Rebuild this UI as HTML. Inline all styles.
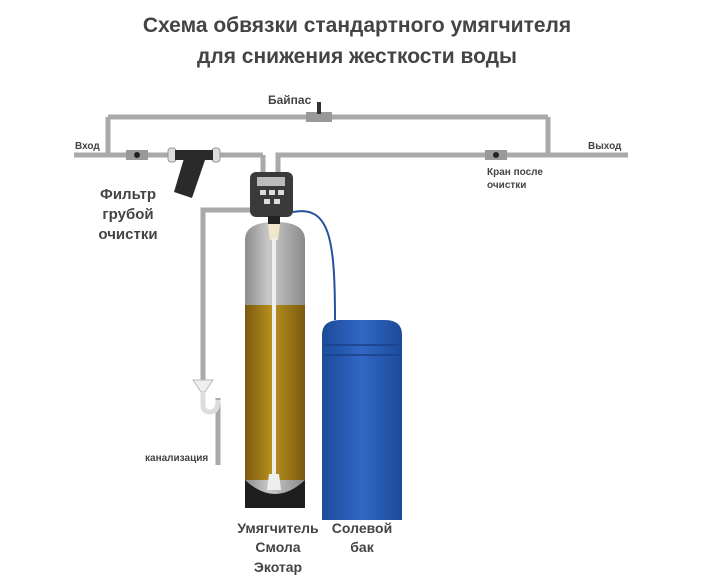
<!DOCTYPE html>
<html><head><meta charset="utf-8"><style>
body{margin:0;background:#fff}
svg{display:block}
text{font-family:"Liberation Sans","DejaVu Sans",sans-serif;font-weight:bold;fill:#444}
</style></head><body>
<svg width="713" height="583" viewBox="0 0 713 583" xmlns="http://www.w3.org/2000/svg">
<defs>
<linearGradient id="tank" x1="0" x2="1"><stop offset="0" stop-color="#8d8d8d"/><stop offset="0.4" stop-color="#c9c9c9"/><stop offset="1" stop-color="#8a8a8a"/></linearGradient>
<linearGradient id="resin" x1="0" x2="1"><stop offset="0" stop-color="#7a5a10"/><stop offset="0.45" stop-color="#b8901e"/><stop offset="1" stop-color="#7a5a10"/></linearGradient>
<linearGradient id="blue" x1="0" x2="1"><stop offset="0" stop-color="#1d4a9a"/><stop offset="0.5" stop-color="#3068c4"/><stop offset="1" stop-color="#1d4a9a"/></linearGradient>
</defs>
<text x="357" y="32" font-size="21" text-anchor="middle" fill="#3a3a3a">Схема обвязки стандартного умягчителя</text>
<text x="357" y="63" font-size="21" text-anchor="middle" fill="#3a3a3a">для снижения жесткости воды</text>

<g stroke="#a9a9a9" stroke-width="5" fill="none">
<path d="M108 117 H548"/>
<path d="M108 117 V155 M548 117 V155"/>
<path d="M74 155 H263 M263 155 V175"/>
<path d="M278 175 V155 H628"/>
<path d="M250 210 H203 V380"/>
<path d="M218 398 V465"/>
</g>
<!-- bypass valve -->
<rect x="306" y="112" width="26" height="10" fill="#999"/>
<rect x="317" y="102" width="4" height="12" fill="#333"/>
<!-- valves -->
<rect x="126" y="150" width="22" height="10" fill="#999"/><circle cx="137" cy="155" r="3" fill="#222"/>
<rect x="485" y="150" width="22" height="10" fill="#999"/><circle cx="496" cy="155" r="3" fill="#222"/>
<!-- filter -->
<rect x="168" y="148" width="8" height="14" rx="3" fill="#ddd" stroke="#999"/>
<rect x="212" y="148" width="8" height="14" rx="3" fill="#ddd" stroke="#999"/>
<rect x="175" y="150" width="38" height="10" fill="#2a2a2a"/>
<path d="M185 155 L205 160 L192 198 L174 192 Z" fill="#2a2a2a"/>
<!-- head -->
<rect x="250" y="172" width="43" height="45" rx="6" fill="#3a3a3a"/>
<rect x="257" y="177" width="28" height="9" fill="#bbb"/>
<rect x="260" y="190" width="6" height="5" fill="#ddd"/><rect x="269" y="190" width="6" height="5" fill="#ddd"/><rect x="278" y="190" width="6" height="5" fill="#ddd"/>
<rect x="264" y="199" width="6" height="5" fill="#ddd"/><rect x="274" y="199" width="6" height="5" fill="#ddd"/>
<!-- tank -->
<path d="M245 240 Q245 222 275 222 Q305 222 305 240 V508 H245 Z" fill="url(#tank)"/>
<path d="M245 305 H305 V480 H245 Z" fill="url(#resin)"/>
<path d="M245 480 Q275 508 305 480 V508 H245 Z" fill="#1e1e1e"/>
<rect x="268" y="216" width="12" height="8" fill="#222"/>
<path d="M268 224 H280 L278 240 H270 Z" fill="#f0e6cc"/>
<rect x="272" y="238" width="4" height="236" fill="#eee"/>
<path d="M269 474 H279 L281 490 H267 Z" fill="#eee"/>
<!-- blue tube -->
<path d="M293 212 C330 205 335 240 335 320" stroke="#2850a0" stroke-width="2" fill="none"/>
<!-- salt tank -->
<path d="M322 335 Q322 320 340 320 H385 Q402 320 402 335 V520 H322 Z" fill="url(#blue)"/>
<path d="M325 345 H399 M325 355 H399" stroke="#1a3f85" stroke-width="1.5"/>
<!-- funnel/trap -->
<path d="M193 380 H213 L205 392 H201 Z" fill="#eee" stroke="#bbb"/>
<path d="M203 392 V405 Q203 412 210 412 Q218 412 218 400" stroke="#ddd" stroke-width="5" fill="none"/>

<text x="75" y="149" font-size="10">Вход</text>
<text x="588" y="149" font-size="10">Выход</text>
<text x="268" y="104" font-size="12">Байпас</text>
<text x="487" y="175" font-size="10">Кран после</text>
<text x="487" y="188" font-size="10">очистки</text>
<text x="128" y="199" font-size="15" text-anchor="middle">Фильтр</text>
<text x="128" y="219" font-size="15" text-anchor="middle">грубой</text>
<text x="128" y="239" font-size="15" text-anchor="middle">очистки</text>
<text x="145" y="461" font-size="10">канализация</text>
<text x="278" y="533" font-size="14" text-anchor="middle">Умягчитель</text>
<text x="278" y="552" font-size="14" text-anchor="middle">Смола</text>
<text x="278" y="572" font-size="14" text-anchor="middle">Экотар</text>
<text x="362" y="533" font-size="14" text-anchor="middle">Солевой</text>
<text x="362" y="552" font-size="14" text-anchor="middle">бак</text>
</svg>
</body></html>
